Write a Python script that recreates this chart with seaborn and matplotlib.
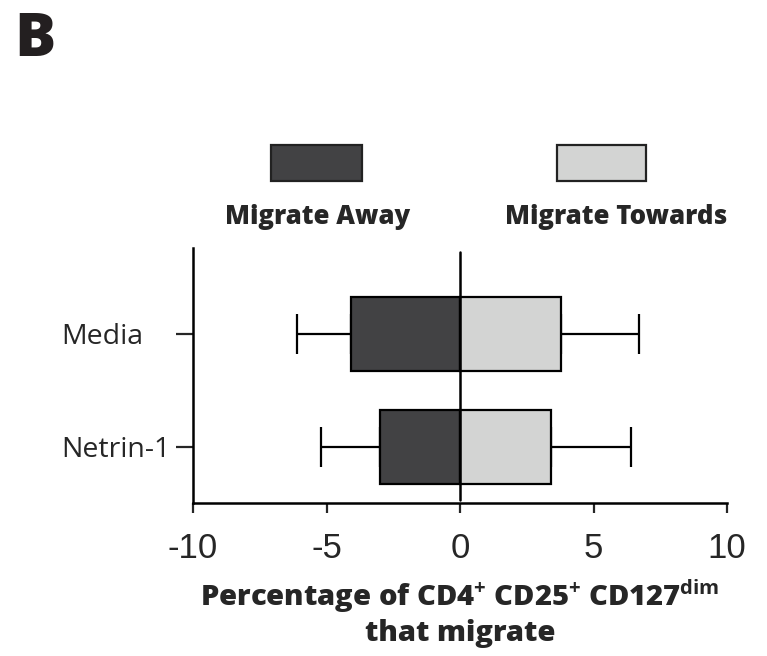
import matplotlib
matplotlib.use("Agg")
import matplotlib.pyplot as plt
from matplotlib.patches import Rectangle
import seaborn as sns
import pandas as pd

categories = ["Media", "Netrin-1"]
away_mean = [-4.1, -3.0]
away_err = [2.0, 2.2]
towards_mean = [3.8, 3.4]
towards_err = [2.9, 3.0]
xticks = [-10, -5, 0, 5, 10]
legend_labels = ["Migrate Away", "Migrate Towards"]

dark = "#424244"
light = "#d3d4d3"

sns.set_style("white")
plt.rcParams["font.family"] = ["Open Sans", "DejaVu Sans"]
plt.rcParams["mathtext.fontset"] = "custom"
plt.rcParams["mathtext.rm"] = "Open Sans:bold"
plt.rcParams["mathtext.bf"] = "Open Sans:bold"

W, H = 767, 656
fig = plt.figure(figsize=(W / 100, H / 100), dpi=100)
ax = fig.add_axes([193 / W, 1 - 503 / H, 534 / W, 255 / H])

df = pd.DataFrame({"cat": categories, "away": away_mean, "towards": towards_mean})
sns.barplot(data=df, x="away", y="cat", orient="h", color=dark, width=0.655,
            edgecolor="black", linewidth=1.6, saturation=1, ax=ax, zorder=3)
sns.barplot(data=df, x="towards", y="cat", orient="h", color=light, width=0.655,
            edgecolor="black", linewidth=1.6, saturation=1, ax=ax, zorder=3)

ypos = list(range(len(categories)))
ax.errorbar(away_mean, ypos, xerr=[away_err, [0] * len(away_err)], fmt="none",
            ecolor="black", elinewidth=1.6, capsize=14.5, capthick=1.6, zorder=2)
ax.errorbar(towards_mean, ypos, xerr=[[0] * len(towards_err), towards_err], fmt="none",
            ecolor="black", elinewidth=1.6, capsize=14.5, capthick=1.6, zorder=2)

ax.axvline(0, ymin=0.012, ymax=0.984, color="black", lw=1.8, zorder=4)

ax.set_xlim(-10, 10)
ax.set_ylim(1.496, -0.761)
ax.set_xticks(xticks)
ax.set_xticklabels([str(t) for t in xticks], family="Liberation Sans", fontsize=25)
ax.set_yticks(ypos)
ax.set_yticklabels(categories, fontsize=20.5, ha="left")
ax.tick_params(axis="y", length=12, width=1.6, pad=83, direction="out", left=True)
ax.tick_params(axis="x", length=7, width=1.6, pad=14, direction="out", bottom=True)
ax.set_xlabel("")
ax.set_ylabel("")
for s in ["top", "right"]:
    ax.spines[s].set_visible(False)
for s in ["left", "bottom"]:
    ax.spines[s].set_linewidth(1.8)
    ax.spines[s].set_color("black")

# legend
boxes = [(271, 362, dark), (557, 646, light)]
for (x0, x1, c), lab in zip(boxes, legend_labels):
    fig.add_artist(Rectangle((x0 / W, 1 - 181 / H), (x1 - x0) / W, 36 / H,
                             transform=fig.transFigure, facecolor=c,
                             edgecolor="#222222", linewidth=1.6))
fig.text(318 / W, 1 - 217 / H, legend_labels[0], ha="center", va="center",
         fontsize=18.5, fontweight=800)
fig.text(616 / W, 1 - 217 / H, legend_labels[1], ha="center", va="center",
         fontsize=18.5, fontweight=800)

fig.text(460 / W, 1 - 596 / H,
         r"Percentage of CD4$^{\mathbf{+}}$ CD25$^{\mathbf{+}}$ CD127$^{\mathbf{dim}}$",
         ha="center", va="center", fontsize=21, fontweight=800)
fig.text(460 / W, 1 - 633 / H, "that migrate", ha="center", va="center",
         fontsize=21, fontweight=800)

fig.text(14 / W, 1 - 10 / H, "B", ha="left", va="top", fontsize=44,
         fontweight=800, color="#231f20")

fig.savefig("out.png", dpi=100)
